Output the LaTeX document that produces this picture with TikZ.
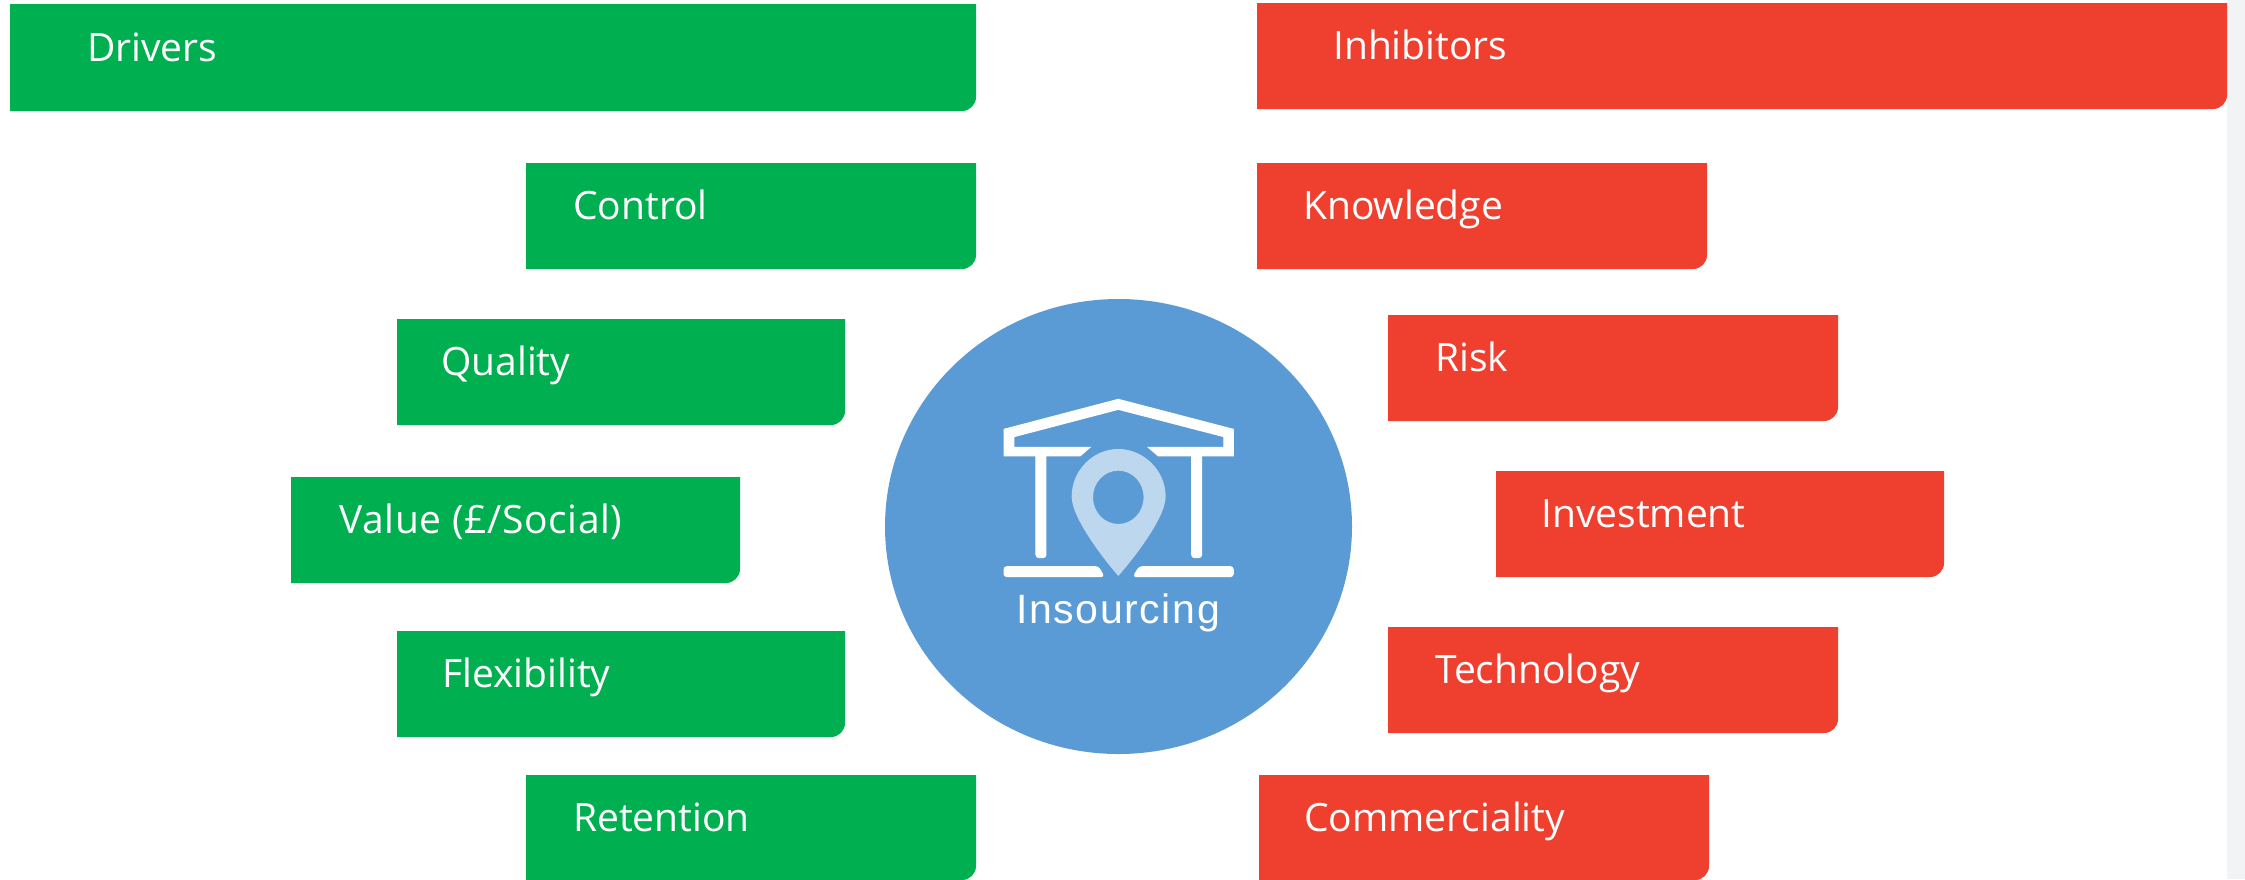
\documentclass[tikz,border=0pt]{standalone}
\usepackage{fontspec}
\setmainfont{Open Sans}
\newfontfamily\arialish[LetterSpace=4]{Liberation Sans}
\definecolor{gbar}{HTML}{00B050}
\definecolor{rbar}{HTML}{EF3F2F}
\definecolor{hubblue}{HTML}{5B9BD5}
\definecolor{pinblue}{HTML}{BDD7EE}
\definecolor{strip}{HTML}{F2F3F5}
\tikzset{
  barlabel/.style={text=white,anchor=base west,inner sep=0pt,font=\fontsize{39}{39}\selectfont},
  hublabel/.style={text=white,anchor=base,inner sep=0pt,font=\arialish\fontsize{41}{41}\selectfont},
  iconpart/.style={fill=white,draw=white,line width=1pt}
}
\newcommand{\tagbar}[9]{%
  \fill[#6] (#2,#3) -- (#4,#3) [rounded corners=14pt] -- (#4,#5) [sharp corners] -- (#2,#5) -- cycle;
  \node[barlabel] (#1) at (#8,#9) {#7};
}
\begin{document}
\begin{tikzpicture}[x=1pt,y=-1pt]
\useasboundingbox (0,0) rectangle (2245,879);
\fill[white] (0,0) rectangle (2245,879);
\fill[strip] (2227,0) rectangle (2245,879);
\tagbar{drivers}{10}{4}{976}{111}{gbar}{Drivers}{87}{61}
\tagbar{control}{526}{163}{976}{269}{gbar}{Control}{573}{219}
\tagbar{quality}{397}{319}{845}{425}{gbar}{Quality}{441}{375}
\tagbar{value}{291}{477}{740}{583}{gbar}{\addfontfeature{LetterSpace=1.6}Value (£/Social)}{339}{533}
\tagbar{flex}{397}{631}{845}{737}{gbar}{Flexibility}{442}{687}
\tagbar{retention}{526}{775}{976}{880}{gbar}{Retention}{573}{831}
\tagbar{inhibitors}{1257}{3}{2227}{109}{rbar}{Inhibitors}{1333}{59}
\tagbar{knowledge}{1257}{163}{1707}{269}{rbar}{Knowledge}{1303}{219}
\tagbar{risk}{1388}{315}{1838}{421}{rbar}{Risk}{1435}{371}
\tagbar{investment}{1496}{471}{1944}{577}{rbar}{Investment}{1541}{527}
\tagbar{technology}{1388}{627}{1838}{733}{rbar}{Technology}{1435}{683}
\tagbar{commerciality}{1259}{775}{1709}{880}{rbar}{Commerciality}{1304}{831}
\fill[hubblue] (1118.5,526.5) ellipse [x radius=233.5, y radius=227.5];
\begin{scope}[shift={(880,290)},x=0.3333pt,y=-0.3333pt]
  \path[iconpart] (372,418) -- (715,328) -- (1060,418) -- (1060,498) -- (835,498) -- (805,472) -- (1032,472) -- (1032,440) -- (715,358) -- (402,440) -- (402,472) -- (630,472) -- (600,498) -- (372,498) -- cycle;
  \path[iconpart,rounded corners=3pt] (468,490) -- (498,490) -- (498,803) -- (468,803) -- cycle;
  \path[iconpart,rounded corners=3pt] (935,490) -- (965,490) -- (965,803) -- (935,803) -- cycle;
  \path[iconpart,rounded corners=3pt] (372,830) -- (655,830) -- (672,860) -- (372,860) -- cycle;
  \path[iconpart,rounded corners=3pt] (778,830) -- (1060,830) -- (1060,860) -- (760,860) -- cycle;
  \fill[pinblue,even odd rule] (715,858) .. controls (690,830) and (575,690) .. (575,620) .. controls (575,540) and (640,477) .. (715,477) .. controls (790,477) and (857,540) .. (857,620) .. controls (857,690) and (740,830) .. (715,858) -- cycle
    (715,622) ellipse [x radius=76, y radius=80];
\end{scope}
\node[hublabel] (hub) at (1118,623) {Insourcing};
\end{tikzpicture}
\end{document}
